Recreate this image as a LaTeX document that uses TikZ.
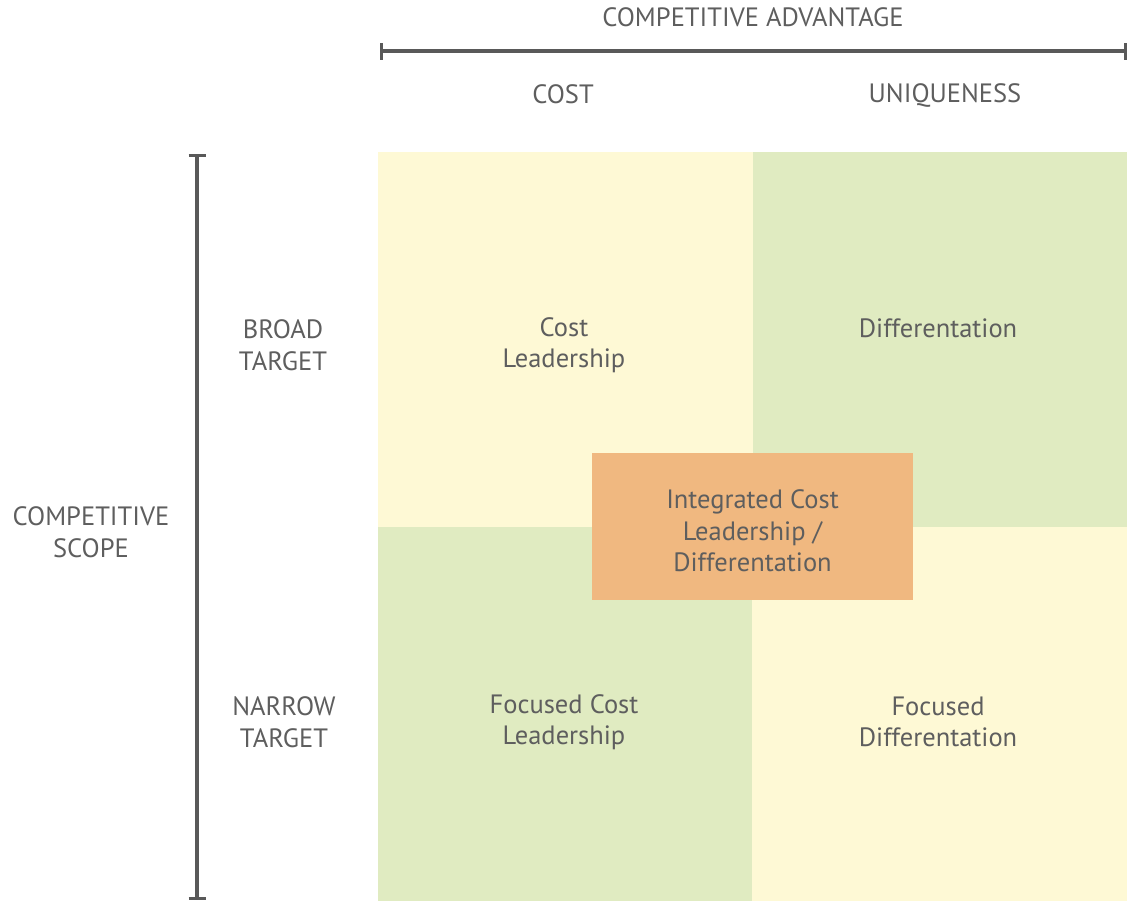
\documentclass[tikz,border=0pt]{standalone}
\usepackage{fontspec}
\setmainfont{PT Sans}
\begin{document}
\definecolor{ink}{HTML}{5E5E5E}
\definecolor{barcol}{HTML}{595959}
\definecolor{paleyellow}{HTML}{FEF9D5}
\definecolor{palegreen}{HTML}{E0EBC1}
\definecolor{orangebox}{HTML}{F0B880}
\begin{tikzpicture}[x=1pt,y=-1pt,
  lbl/.style={text=ink,align=center,font=\fontsize{26.5}{31.5}\selectfont,inner sep=0pt},
  bar/.style={draw=barcol,line width=4pt},
  tick/.style={draw=barcol,line width=3pt}]
\useasboundingbox (0,0) rectangle (1129,903);
% quadrants
\fill[paleyellow] (378,152) rectangle (753,527);
\fill[palegreen]  (753,152) rectangle (1127,527);
\fill[palegreen]  (378,527) rectangle (752,901);
\fill[paleyellow] (752,527) rectangle (1127,901);
% central integrated box
\node[fill=orangebox,minimum width=321pt,minimum height=147pt,inner sep=0pt] (integ) at (752.5,526.5) {};
\node[lbl] (integt) at ([yshift=-4.5]integ.center) {Integrated Cost\\Leadership /\\Differentation};
% horizontal axis bar
\coordinate (hL) at (381,51);
\coordinate (hR) at (1125,51);
\draw[bar] (hL) -- (hR);
\draw[tick] ([yshift=-8.5]hL) -- ([yshift=8.5]hL);
\draw[tick] ([yshift=-8.5]hR) -- ([yshift=8.5]hR);
% vertical axis bar
\coordinate (vT) at (197,155);
\coordinate (vB) at (197,898);
\draw[bar] (vT) -- (vB);
\draw[tick] ([xshift=-8.5]vT) -- ([xshift=8.5]vT);
\draw[tick] ([xshift=-8.5]vB) -- ([xshift=8.5]vB);
% axis labels
\node[lbl] (adv) at (753,17) {COMPETITIVE ADVANTAGE};
\node[lbl] (cost) at (563,94) {COST};
\node[lbl] (uniq) at (945,95) {UNIQUENESS};
\node[lbl] (scope) at (91,532) {COMPETITIVE\\SCOPE};
\node[lbl] (broad) at (283,345) {BROAD\\TARGET};
\node[lbl] (narrow) at (284,722) {NARROW\\TARGET};
% quadrant labels
\node[lbl] (cl) at (564,345) {Cost\\Leadership};
\node[lbl] (diff) at (938,328) {Differentation};
\node[lbl] (fcl) at (564,722) {Focused Cost\\Leadership};
\node[lbl] (fd) at (938,722) {Focused\\Differentation};
\end{tikzpicture}
\end{document}
